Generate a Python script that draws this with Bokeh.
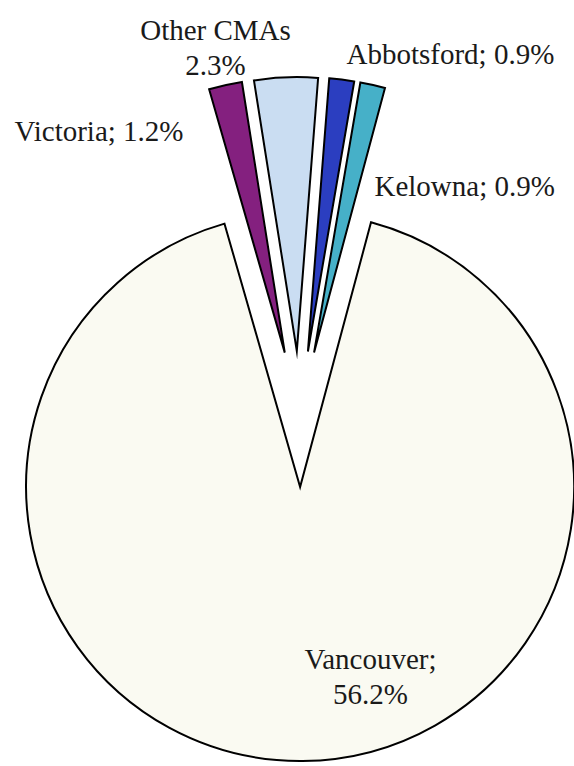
import numpy as np
from bokeh.plotting import figure
from bokeh.models import Range1d
from bokeh.core.properties import value
from bokeh.embed import file_html
from bokeh.resources import INLINE

# Share of the provincial total by census metropolitan area (%)
regions = ["Vancouver", "Victoria", "Other CMAs", "Abbotsford", "Kelowna"]
shares = [56.2, 1.2, 2.3, 0.9, 0.9]
colors = ["#FAFAF2", "#84207F", "#CADDF2", "#2B3EC0", "#46B0C8"]

# Canvas and pie geometry (pixels, y measured upward)
W, H = 574, 766
cx, cy = 299.0, H - 418.5
radius = 274.0
explode = 68.0
first_slice_deg = 15.0  # first slice starts 15 degrees clockwise from 12 o'clock

shares_arr = np.array(shares)
sweep = shares_arr / shares_arr.sum() * 360.0
clock_start = first_slice_deg + np.concatenate([[0.0], np.cumsum(sweep)[:-1]])
clock_end = clock_start + sweep
clock_mid = (clock_start + clock_end) / 2.0

# convert clockwise-from-top degrees to Bokeh's counterclockwise-from-x radians
start_angle = np.radians(90.0 - clock_end)
end_angle = np.radians(90.0 - clock_start)
xs = cx + explode * np.sin(np.radians(clock_mid))
ys = cy + explode * np.cos(np.radians(clock_mid))

p = figure(width=W, height=H, output_backend="svg", toolbar_location=None,
           x_range=Range1d(0, W), y_range=Range1d(0, H),
           min_border=0, min_border_left=0, min_border_right=0,
           min_border_top=0, min_border_bottom=0)
p.axis.visible = False
p.grid.visible = False
p.outline_line_color = None
p.background_fill_color = "white"
p.border_fill_color = "white"

p.wedge(x=xs, y=ys, radius=radius, radius_units="data",
        start_angle=start_angle, end_angle=end_angle,
        fill_color=colors, line_color="black", line_width=2,
        line_join="miter")

# Data labels
def pct(v):
    return f"{v:.1f}%"

label_lines = {
    "Vancouver": [f"{regions[0]};", pct(shares[0])],
    "Victoria": [f"{regions[1]}; {pct(shares[1])}"],
    "Other CMAs": [regions[2], pct(shares[2])],
    "Abbotsford": [f"{regions[3]}; {pct(shares[3])}"],
    "Kelowna": [f"{regions[4]}; {pct(shares[4])}"],
}
# anchor x, first baseline (from top), alignment
label_place = {
    "Vancouver": (370, 658, "center"),
    "Victoria": (14, 130, "left"),
    "Other CMAs": (215, 29, "center"),
    "Abbotsford": (346, 53, "left"),
    "Kelowna": (374, 185, "left"),
}
line_gap = 35
serif = "'Liberation Serif', 'Times New Roman', serif"

for name in regions:
    x0, top_base, align = label_place[name]
    lines = label_lines[name]
    p.text(x=[x0] * len(lines),
           y=[H - (top_base + i * line_gap) for i in range(len(lines))],
           text=lines, text_font=value(serif),
           text_font_size="29px", text_color="#1a1a1a",
           text_align=align, text_baseline="alphabetic")

open("out.html", "w").write(file_html(p, INLINE))
